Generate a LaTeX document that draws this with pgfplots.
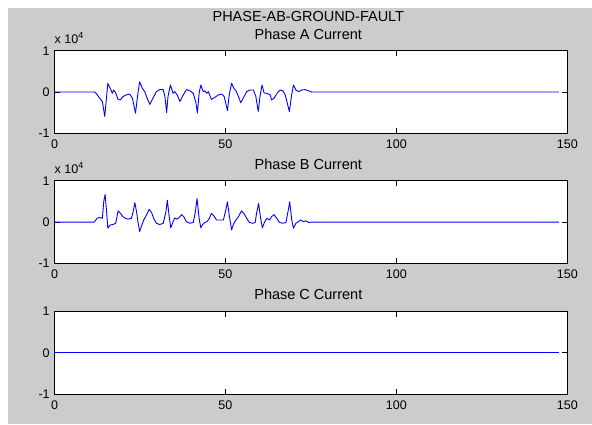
\documentclass[border=0pt]{standalone}
\usepackage{fontspec}
\setmainfont{Liberation Sans}
\usepackage{pgfplots}
\usepackage{pgfplotstable}
\pgfplotsset{compat=1.18}
\definecolor{figgrey}{RGB}{204,204,204}
\definecolor{mblue}{RGB}{0,0,255}

\pgfplotstableread{
x y
0 0
11.7 0
12.2 -300
13.2 -1500
14.0 -2300
14.7 -5900
15.6 2100
16.3 900
16.9 -300
17.3 500
17.9 -200
18.6 -1800
19.3 -1900
20.0 -1100
21.0 -700
22.0 -500
22.8 -1500
23.7 -5100
24.4 -300
24.9 2500
25.7 900
26.4 100
27.1 -1500
27.9 -3000
28.8 -1500
29.8 100
30.8 600
31.8 600
32.3 -1100
32.8 -5000
33.2 -1100
33.9 1700
34.7 -300
35.2 100
35.9 -700
36.7 -2300
37.4 -1100
38.6 600
39.6 300
40.6 -300
41.4 -2700
41.8 -5100
42.3 -300
42.8 1700
43.5 100
44.0 300
44.5 -300
45.0 100
45.9 -1800
46.9 -1300
47.9 -700
48.9 -500
49.6 -1000
50.2 -3100
50.6 -4500
51.1 -700
51.8 2100
52.5 900
53.1 300
53.8 -1100
54.5 -2600
55.2 -1500
56.2 100
57.2 500
58.2 500
58.9 -1100
59.6 -4700
60.1 -1100
60.7 1700
61.3 -200
61.9 -300
62.6 -500
63.1 -700
63.5 -1900
64.2 -1500
65.2 -200
66.0 500
66.8 300
67.5 -700
68.1 -2700
68.7 -4700
69.4 -500
69.9 1700
70.6 500
71.4 100
72.3 500
73.3 600
74.3 300
75.3 0
147.5 0
}\phaseA

\pgfplotstableread{
x y
0 0
11.7 0
12.4 900
13.2 1100
14.0 900
14.4 4900
14.8 6700
15.2 2900
15.6 -1500
16.3 -700
17.1 -600
17.9 -300
18.6 2700
19.3 2100
20.0 1300
20.8 900
21.5 700
22.5 900
23.0 2500
23.5 4700
24.0 2500
24.4 100
24.9 -2300
25.4 -1100
26.1 500
26.9 1700
27.7 3100
28.4 2300
29.0 900
29.8 -300
30.8 -600
31.8 -300
32.6 2500
33.0 5300
33.5 1700
34.0 -1400
34.7 100
35.2 1000
35.9 700
36.7 1300
37.2 1800
37.8 1300
38.6 100
39.6 -300
40.6 -100
41.2 2500
41.7 5700
42.3 900
42.8 -1400
43.3 -600
44.0 -100
44.7 200
45.3 900
45.9 2100
46.6 1500
47.4 500
48.4 500
49.4 500
50.1 2900
50.6 4900
51.1 1700
51.8 -1900
52.3 -600
53.1 500
53.8 1300
54.7 2700
55.4 2100
56.2 900
57.0 -100
58.0 -300
58.7 -100
59.1 2100
59.7 4500
60.3 900
60.8 -1400
61.4 -100
62.1 900
62.9 500
63.5 1300
64.2 1800
65.0 900
65.8 -100
66.8 -300
67.7 -100
68.3 2500
68.8 4900
69.4 500
69.9 -1500
70.6 -300
71.4 100
72.0 500
72.8 100
73.6 300
74.3 -100
75.3 0
147.5 0
}\phaseB

\pgfplotstableread{
x y
0 0
50 0
100 0
147.5 0
}\phaseC

\pgfplotsset{
  matax/.style={
    scale only axis, width=512.8pt, height=82.5pt,
    anchor=south west,
    xmin=0, xmax=150,
    xtick={0,50,100,150},
    scaled x ticks=false, scaled y ticks=false,
    clip mode=individual,
    tick align=inside, major tick length=5pt,
    axis background/.style={fill=white},
    axis line style={black, line width=0.7pt},
    tick style={black, line width=0.6pt},
    ticklabel style={font=\fontsize{12.5}{14}\selectfont},
    xticklabel style={yshift=-3pt},
    yticklabel style={xshift=-1.3pt},
    /pgf/number format/assume math mode=true,
  },
  wave/.style={draw=mblue, line width=0.9pt, mark=none, line join=round},
}
\tikzset{ttl/.style={font=\fontsize{14.5}{16}\selectfont, anchor=base}}

\begin{document}
\begin{tikzpicture}
\useasboundingbox (0,0) rectangle (592pt,424pt);
\fill[white] (0,0) rectangle (592pt,424pt);
\fill[figgrey] (8pt,0) rectangle (592pt,416pt);

% Phase A
\begin{axis}[matax, at={(54.5pt,290.7pt)},
  ymin=-10000, ymax=10000, ytick={-10000,0,10000}, yticklabels={-1,0,1}]
\addplot[draw=mblue, line width=0.9pt, mark=none, line join=round] table[x=x,y=y] {\phaseA};
\node[ttl] at ([yshift=29.3pt]rel axis cs:0.495,1) {PHASE-AB-GROUND-FAULT};
\node[ttl] at ([yshift=11.7pt]rel axis cs:0.495,1) {Phase A Current};
\node[anchor=base west, inner sep=0pt, font=\fontsize{12.5}{14}\selectfont]
  at ([yshift=7pt]rel axis cs:0,1) {x 10\raisebox{5pt}{\fontsize{9}{9}\selectfont 4}};
\end{axis}

% Phase B
\begin{axis}[matax, at={(54.5pt,160.7pt)},
  ymin=-10000, ymax=10000, ytick={-10000,0,10000}, yticklabels={-1,0,1}]
\addplot[draw=mblue, line width=0.9pt, mark=none, line join=round] table[x=x,y=y] {\phaseB};
\node[ttl] at ([yshift=11.7pt]rel axis cs:0.495,1) {Phase B Current};
\node[anchor=base west, inner sep=0pt, font=\fontsize{12.5}{14}\selectfont]
  at ([yshift=7pt]rel axis cs:0,1) {x 10\raisebox{5pt}{\fontsize{9}{9}\selectfont 4}};
\end{axis}

% Phase C
\begin{axis}[matax, at={(54.5pt,30pt)},
  ymin=-1, ymax=1, ytick={-1,0,1}]
\addplot[draw=mblue, line width=0.9pt, mark=none] table[x=x,y=y] {\phaseC};
\node[ttl] at ([yshift=11.7pt]rel axis cs:0.495,1) {Phase C Current};
\end{axis}
\end{tikzpicture}
\end{document}
